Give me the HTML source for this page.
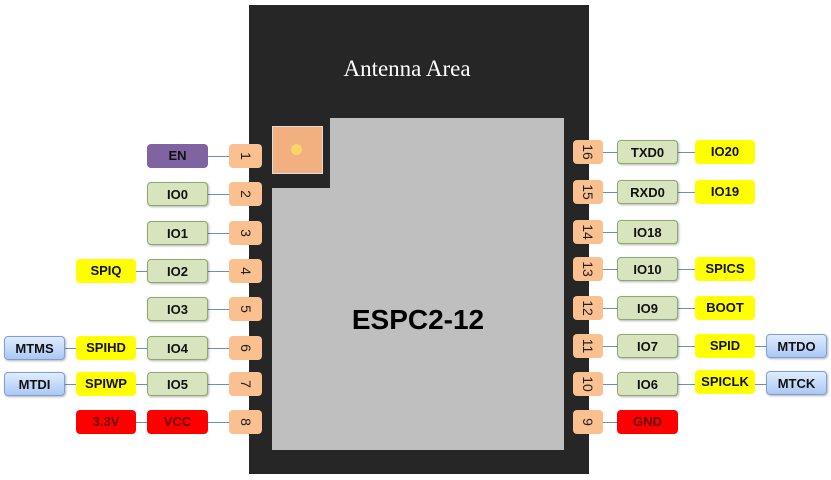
<!DOCTYPE html>
<html><head><meta charset="utf-8"><style>
body{margin:0;width:831px;height:480px;background:#fff;position:relative;overflow:hidden;font-family:"Liberation Sans",sans-serif}
div{position:absolute;box-sizing:border-box}
.b{height:24px;border-radius:4px;font-weight:bold;font-size:13px;line-height:24px;text-align:center;color:#111}
.g{background:#d7e4bd;border:1.5px solid #8fa870;box-shadow:1px 1px 2px rgba(0,0,0,.3)}
.y{background:#ffff00}
.r{background:#ff0000;color:#600}
.p{background:#8064a2}
.u{background:linear-gradient(#e0ecff,#aac8f4);border:1.5px solid #7d9fd4;box-shadow:1px 1px 2px rgba(0,0,0,.3)}
.pin{background:#fac090;border-radius:4px;height:24px;font-size:14px;color:#222}
.pin span{position:absolute;left:50%;top:50%;transform:translate(-50%,-50%) rotate(90deg);white-space:nowrap}
.l{height:1px;background:#6a8fbf}
</style></head><body>
<div style="left:249px;top:5px;width:340px;height:469px;background:#262626"></div>
<div style="left:272px;top:188px;width:292px;height:262px;background:#bfbfbf"></div>
<div style="left:330px;top:118px;width:234px;height:80px;background:#bfbfbf"></div>
<div style="left:272px;top:126px;width:51px;height:48px;background:#f2b080;border:1px solid #ddd"></div>
<div style="left:291px;top:144px;width:11px;height:11px;border-radius:50%;background:#f7d46a"></div>
<div style="left:300px;top:56px;width:214px;text-align:center;color:#fff;font-family:'Liberation Serif',serif;font-size:23px">Antenna Area</div>
<div style="left:300px;top:304px;width:236px;text-align:center;color:#000;font-weight:bold;font-size:28px">ESPC2-12</div>

<!-- left side -->
<div class="l" style="left:200px;top:156px;width:35px"></div>
<div class="b p" style="left:147px;top:144px;width:61px">EN</div>
<div class="pin" style="left:229px;top:144px;width:33px"><span>1</span></div>

<div class="l" style="left:200px;top:194px;width:35px"></div>
<div class="b g" style="left:147px;top:182px;width:61px">IO0</div>
<div class="pin" style="left:229px;top:182px;width:33px"><span>2</span></div>

<div class="l" style="left:200px;top:233px;width:35px"></div>
<div class="b g" style="left:147px;top:221px;width:61px">IO1</div>
<div class="pin" style="left:229px;top:221px;width:33px"><span>3</span></div>

<div class="l" style="left:130px;top:271px;width:105px"></div>
<div class="b y" style="left:76px;top:259px;width:60px">SPIQ</div>
<div class="b g" style="left:147px;top:259px;width:61px">IO2</div>
<div class="pin" style="left:229px;top:259px;width:33px"><span>4</span></div>

<div class="l" style="left:200px;top:309px;width:35px"></div>
<div class="b g" style="left:147px;top:297px;width:61px">IO3</div>
<div class="pin" style="left:229px;top:297px;width:33px"><span>5</span></div>

<div class="l" style="left:60px;top:348px;width:175px"></div>
<div class="b u" style="left:4px;top:336px;width:61px">MTMS</div>
<div class="b y" style="left:76px;top:336px;width:60px">SPIHD</div>
<div class="b g" style="left:147px;top:336px;width:61px">IO4</div>
<div class="pin" style="left:229px;top:336px;width:33px"><span>6</span></div>

<div class="l" style="left:60px;top:384px;width:175px"></div>
<div class="b u" style="left:4px;top:372px;width:61px">MTDI</div>
<div class="b y" style="left:76px;top:372px;width:60px">SPIWP</div>
<div class="b g" style="left:147px;top:372px;width:61px">IO5</div>
<div class="pin" style="left:229px;top:372px;width:33px"><span>7</span></div>

<div class="l" style="left:130px;top:422px;width:105px"></div>
<div class="b r" style="left:76px;top:410px;width:60px">3.3V</div>
<div class="b r" style="left:147px;top:410px;width:61px">VCC</div>
<div class="pin" style="left:229px;top:410px;width:33px"><span>8</span></div>

<!-- right side -->
<div class="l" style="left:600px;top:152px;width:100px"></div>
<div class="pin" style="left:573px;top:140px;width:30px"><span>16</span></div>
<div class="b g" style="left:617px;top:140px;width:61px">TXD0</div>
<div class="b y" style="left:695px;top:140px;width:60px">IO20</div>

<div class="l" style="left:600px;top:192px;width:100px"></div>
<div class="pin" style="left:573px;top:180px;width:30px"><span>15</span></div>
<div class="b g" style="left:617px;top:180px;width:61px">RXD0</div>
<div class="b y" style="left:695px;top:180px;width:60px">IO19</div>

<div class="l" style="left:600px;top:232px;width:25px"></div>
<div class="pin" style="left:573px;top:220px;width:30px"><span>14</span></div>
<div class="b g" style="left:617px;top:220px;width:61px">IO18</div>

<div class="l" style="left:600px;top:269px;width:100px"></div>
<div class="pin" style="left:573px;top:257px;width:30px"><span>13</span></div>
<div class="b g" style="left:617px;top:257px;width:61px">IO10</div>
<div class="b y" style="left:695px;top:257px;width:60px">SPICS</div>

<div class="l" style="left:600px;top:308px;width:100px"></div>
<div class="pin" style="left:573px;top:296px;width:30px"><span>12</span></div>
<div class="b g" style="left:617px;top:296px;width:61px">IO9</div>
<div class="b y" style="left:695px;top:296px;width:60px">BOOT</div>

<div class="l" style="left:600px;top:346px;width:170px"></div>
<div class="pin" style="left:573px;top:334px;width:30px"><span>11</span></div>
<div class="b g" style="left:617px;top:334px;width:61px">IO7</div>
<div class="b y" style="left:695px;top:334px;width:60px">SPID</div>
<div class="b u" style="left:766px;top:334px;width:61px">MTDO</div>

<div class="l" style="left:600px;top:384px;width:170px"></div>
<div class="pin" style="left:573px;top:372px;width:30px"><span>10</span></div>
<div class="b g" style="left:617px;top:372px;width:61px">IO6</div>
<div class="b y" style="left:695px;top:370px;width:60px">SPICLK</div>
<div class="b u" style="left:766px;top:371px;width:61px">MTCK</div>

<div class="l" style="left:600px;top:422px;width:25px"></div>
<div class="pin" style="left:573px;top:410px;width:30px"><span>9</span></div>
<div class="b r" style="left:617px;top:410px;width:61px">GND</div>
</body></html>
